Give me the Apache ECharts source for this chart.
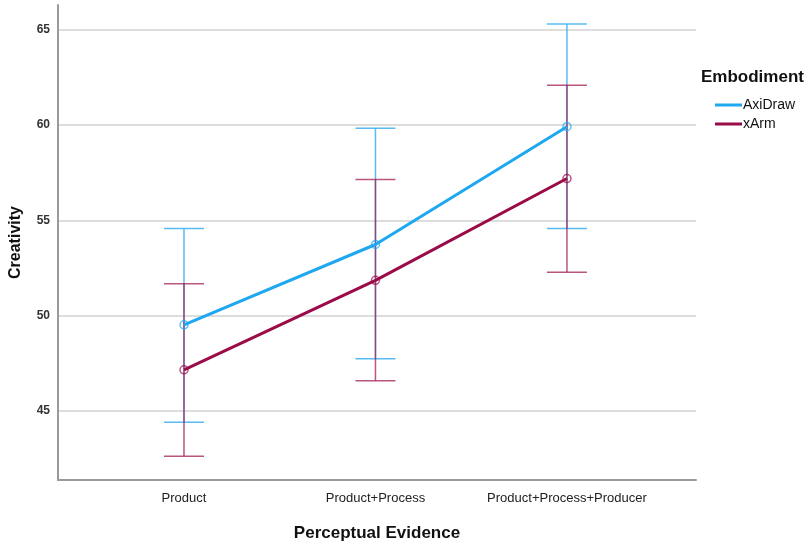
<!DOCTYPE html>
<html><head><meta charset="utf-8">
<script src="https://cdn.jsdelivr.net/npm/echarts@6/dist/echarts.min.js"></script>
<style>html,body{margin:0;padding:0;background:#fff}#c{width:807px;height:547px}</style>
</head><body><div id="c"></div>
<script>
var categories = ['Product', 'Product+Process', 'Product+Process+Producer'];
var yTicks = [45, 50, 55, 60, 65];
var axiMean = [49.53, 53.74, 59.92];
var axiLow = [44.42, 47.75, 54.58];
var axiHigh = [54.58, 59.83, 65.31];
var xarmMean = [47.17, 51.86, 57.20];
var xarmLow = [42.64, 46.60, 52.28];
var xarmHigh = [51.68, 57.15, 62.09];

var AXI = '#1fa7f0', XARM = '#9b0b47';
var AXI_E = 'rgba(60,175,240,0.85)', XARM_E = 'rgba(160,30,85,0.75)';

function pts(arr){ return arr.map(function(v,i){ return [i, v]; }); }
function errData(lo, hi){ return lo.map(function(v,i){ return [i, v, hi[i]]; }); }
function errSeries(name, lo, hi, color){
  return {
    type: 'custom', name: name, z: 1,
    data: errData(lo, hi),
    renderItem: function(params, api){
      var x = api.value(0);
      var a = api.coord([x, api.value(1)]);
      var b = api.coord([x, api.value(2)]);
      var hw = 20;
      var st = {stroke: color, lineWidth: 1.5};
      return {type: 'group', children: [
        {type:'line', shape:{x1:a[0],y1:a[1],x2:b[0],y2:b[1]}, style:st},
        {type:'line', shape:{x1:a[0]-hw,y1:a[1],x2:a[0]+hw,y2:a[1]}, style:st},
        {type:'line', shape:{x1:b[0]-hw,y1:b[1],x2:b[0]+hw,y2:b[1]}, style:st}
      ]};
    },
    silent: true
  };
}
function lineSeries(name, mean, color){
  return {
    type: 'line', name: name, z: 3,
    data: pts(mean),
    lineStyle: {color: color, width: 3},
    itemStyle: {color: 'rgba(255,255,255,0)', borderColor: color, borderWidth: 1.5, opacity: 0.7},
    symbol: 'circle', symbolSize: 8, showSymbol: true,
    emphasis: {disabled: true}
  };
}
var chart = echarts.init(document.getElementById('c'));
chart.setOption({
  animation: false,
  backgroundColor: '#fff',
  title: {
    text: 'Embodiment', left: 696, top: 64,
    textStyle: {fontFamily: 'Liberation Sans', fontSize: 17, fontWeight: 'bold', color: '#111'}
  },
  legend: {
    orient: 'vertical', left: 710, top: 93, itemGap: 5,
    itemWidth: 27, itemHeight: 3, icon: 'rect',
    data: [{name: 'AxiDraw', itemStyle:{color: AXI}}, {name: 'xArm', itemStyle:{color: XARM}}],
    textStyle: {fontFamily: 'Liberation Sans', fontSize: 14, color: '#111', padding: [0,0,0,-4]}
  },
  grid: {left: 58, right: 111, top: 5, bottom: 66, containLabel: false},
  xAxis: {
    type: 'value', min: -0.658, max: 2.674,
    name: 'Perceptual Evidence', nameLocation: 'middle', nameGap: 45,
    nameTextStyle: {fontFamily: 'Liberation Sans', fontSize: 17, fontWeight: 'bold', color: '#111'},
    axisLine: {show: true, onZero: false, lineStyle: {color: '#9a9a9a', width: 2}},
    axisTick: {show: false, customValues: [0,1,2]},
    splitLine: {show: false},
    axisLabel: {customValues: [0,1,2], margin: 12, fontFamily: 'Liberation Sans', fontSize: 13, color: '#222',
      formatter: function(v){ return categories[Math.round(v)]; }}
  },
  yAxis: {
    type: 'value', min: 41.39, max: 66.3,
    name: 'Creativity', nameLocation: 'middle', nameGap: 34, nameRotate: 90,
    nameTextStyle: {fontFamily: 'Liberation Sans', fontSize: 16, fontWeight: 'bold', color: '#111'},
    axisLine: {show: true, onZero: false, lineStyle: {color: '#9a9a9a', width: 2}},
    axisTick: {show: false, customValues: yTicks},
    axisLabel: {customValues: yTicks, margin: 8, fontFamily: 'Liberation Sans', fontSize: 12, fontWeight: 'bold', color: '#333'},
    splitLine: {show: true, lineStyle: {color: '#d2d2d2', width: 1.5}}
  },
  series: [
    errSeries('AxiDraw', axiLow, axiHigh, AXI_E),
    errSeries('xArm', xarmLow, xarmHigh, XARM_E),
    lineSeries('AxiDraw', axiMean, AXI),
    lineSeries('xArm', xarmMean, XARM)
  ]
});
</script></body></html>
